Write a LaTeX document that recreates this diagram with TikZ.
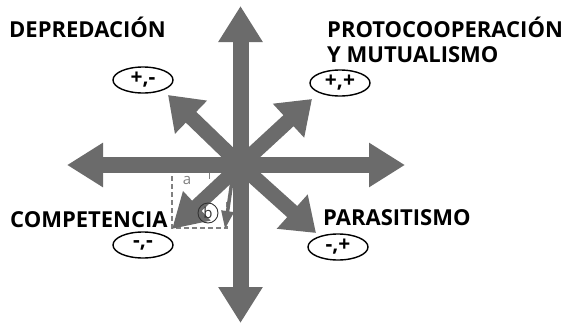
\documentclass[tikz,border=0pt]{standalone}
\usepackage{fontspec}
\setmainfont{Open Sans}
\usetikzlibrary{arrows.meta,shapes.geometric}
\definecolor{arr}{HTML}{6B6B6B}
\definecolor{dashc}{HTML}{808080}
\begin{document}
\begin{tikzpicture}[x=1pt,y=-1pt,
  axisarrow/.style={draw=arr,line width=16pt,{Triangle[width=42pt,length=36pt]}-{Triangle[width=42pt,length=36pt]}},
  diagarrow/.style={draw=arr,line width=15pt,-{Triangle[width=44pt,length=32pt]}},
  smallarrow/.style={draw=arr,line width=14pt,-{Triangle[width=38pt,length=34pt]}},
  thinarrow/.style={draw=arr,line width=3.5pt,-{Triangle[width=12pt,length=18pt]}},
  title/.style={anchor=base west,inner sep=0pt,font=\fontsize{22}{25}\selectfont\bfseries},
  sign/.style={draw,ellipse,line width=1.4pt,minimum width=60pt,minimum height=26pt,inner sep=0pt,font=\fontsize{21}{21}\selectfont\bfseries},
  dashline/.style={draw=dashc,line width=1.3pt,dash pattern=on 5pt off 3pt}]
\useasboundingbox (0,0) rectangle (565,324);
% coordinates
\coordinate (c) at (240.5,165);
\coordinate (top) at (240.5,6);
\coordinate (bot) at (240.5,323);
\coordinate (lft) at (67,165);
\coordinate (rgt) at (405,165);
\coordinate (ul) at (168,95);
\coordinate (ur) at (312,99);
\coordinate (lr) at (316,233);
\coordinate (ll) at (172,229);
\coordinate (ts) at (233,174);
\coordinate (te) at (225,229);
% dashed box
\coordinate (d1) at (172,176);
\coordinate (d2) at (172,228);
\coordinate (d3) at (227,228);
\coordinate (d4) at (227,200);
\coordinate (k1) at (209,173);
\coordinate (k2) at (209,179);
\draw[dashline] (d1) -- (d2) -- (d3) -- (d4);
\draw[draw=dashc,line width=1pt] (k1) -- (k2);
\node[anchor=center,inner sep=0pt,text=dashc,font=\fontsize{15}{15}\selectfont] (a) at (187,180) {a};
% arrows
\draw[axisarrow] (top) -- (bot);
\draw[axisarrow] (lft) -- (rgt);
\draw[diagarrow] (c) -- (ul);
\draw[diagarrow] (c) -- (ur);
\draw[diagarrow] (c) -- (lr);
\draw[smallarrow] (c) -- (ll);
\draw[thinarrow] (ts) -- (te);
\node[draw=black!80,circle,line width=0.9pt,minimum size=20pt,inner sep=0pt,text=black!80,font=\fontsize{15}{15}\selectfont] (b) at (208,213) {b};
% labels
\node[title] (dep) at (9,37) {DEPREDACIÓN};
\node[title] (pro1) at (327,37) {PROTOCOOPERACIÓN};
\node[title] (pro2) at (327,62) {Y MUTUALISMO};
\node[title] (com) at (10,227) {COMPETENCIA};
\node[title] (par) at (323,225) {PARASITISMO};
\node[sign] (s1) at (143,80) {+,-};
\node[sign] (s2) at (340,83) {+,+};
\node[sign] (s3) at (143,245) {-,-};
\node[sign] (s4) at (338,247) {-,+};
\end{tikzpicture}
\end{document}
